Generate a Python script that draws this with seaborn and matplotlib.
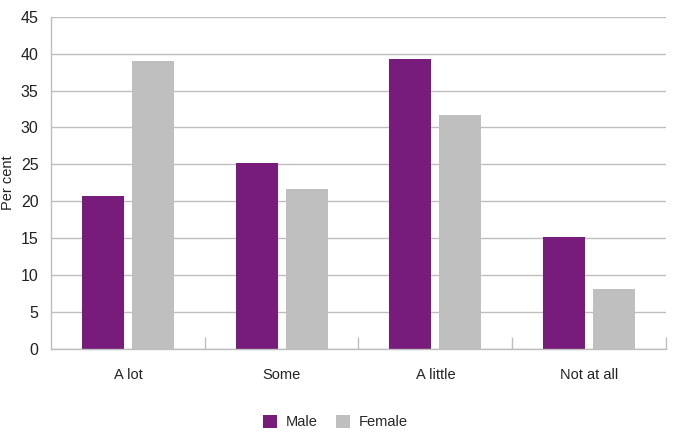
import matplotlib
matplotlib.use("Agg")
import matplotlib.pyplot as plt
import seaborn as sns
import pandas as pd
from matplotlib.patches import Patch
from matplotlib.ticker import FixedLocator

categories = ["A lot", "Some", "A little", "Not at all"]
male = [20.7, 25.2, 39.3, 15.1]
female = [39.0, 21.7, 31.7, 8.1]
series = ["Male", "Female"]
colors = ["#771C7A", "#BFBFBF"]

df = pd.DataFrame({
    "Category": categories * 2,
    "Value": male + female,
    "Sex": ["Male"] * len(categories) + ["Female"] * len(categories),
})

sns.set_theme(style="white")
plt.rcParams["font.family"] = ["Liberation Sans", "DejaVu Sans"]

fig = plt.figure(figsize=(6.75, 4.38), dpi=100)
ax = fig.add_axes([0.0756, 0.2032, 0.911, 0.7587])

sns.barplot(data=df, x="Category", y="Value", hue="Sex", order=categories,
            hue_order=series, palette=colors, width=0.65, gap=0.16,
            saturation=1, ax=ax, legend=False, edgecolor="none")

ax.set_ylim(0, 45)
ax.set_xlim(-0.5, len(categories) - 0.5)
ax.set_yticks(range(0, 46, 5))
ax.yaxis.grid(True, color="#BEBEBE", linewidth=1)
ax.set_axisbelow(True)
for s in ["top", "right"]:
    ax.spines[s].set_visible(False)
for s in ["left", "bottom"]:
    ax.spines[s].set_color("#BEBEBE")
    ax.spines[s].set_linewidth(1)

ax.xaxis.set_minor_locator(FixedLocator([0.5, 1.5, 2.5, 3.5]))
ax.tick_params(axis="x", which="minor", direction="in", length=9, color="#BEBEBE", width=1, bottom=True)
ax.tick_params(axis="x", which="major", length=0, pad=14, labelsize=10.5, labelcolor="#222222")
ax.tick_params(axis="y", length=0, pad=9, labelsize=11.5, labelcolor="#222222")
ax.set_xlabel("")
ax.set_ylabel("Per cent", fontsize=10.5, color="#222222")
ax.yaxis.set_label_coords(-0.058, 0.5)

handles = [Patch(facecolor=c, edgecolor="none", label=l) for c, l in zip(colors, series)]
fig.legend(handles=handles, loc="center", bbox_to_anchor=(0.497, 0.036), ncol=2,
           frameon=False, fontsize=10.5, handlelength=0.95, handleheight=0.95,
           columnspacing=1.3, handletextpad=0.6)

fig.savefig("out.png", dpi=100)
